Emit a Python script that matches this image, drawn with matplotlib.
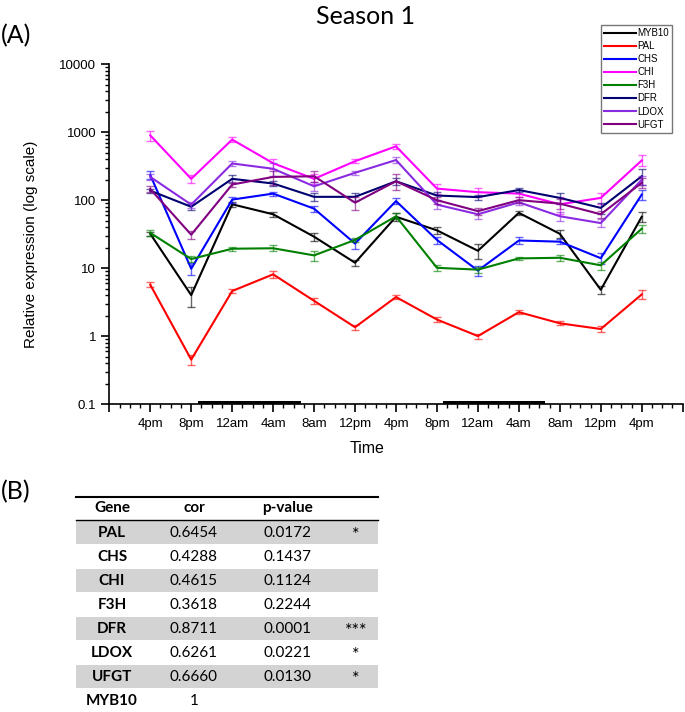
import matplotlib
matplotlib.use("Agg")
import matplotlib.pyplot as plt
from matplotlib.patches import Rectangle
from matplotlib.ticker import LogLocator, FixedLocator, NullFormatter

plt.rcParams["font.family"] = ["Liberation Sans", "DejaVu Sans"]

# hours after the first 4pm sample
hours = [0, 4, 8, 12, 16, 20, 24, 28, 32, 36, 40, 44, 48]
tick_labels = ["4pm", "8pm", "12am", "4am", "8am", "12pm", "4pm",
               "8pm", "12am", "4am", "8am", "12pm", "4pm"]

genes = ["MYB10", "PAL", "CHS", "CHI", "F3H", "DFR", "LDOX", "UFGT"]
colors = ["#000000", "#ff0000", "#0000ff", "#ff00ff", "#008000",
          "#000070", "#8a2be2", "#800080"]

myb10 = [32, 4.0, 87, 62, 29, 12, 57, 36, 18, 65, 32, 4.8, 57]
pal = [5.7, 0.45, 4.6, 8.1, 3.3, 1.35, 3.75, 1.75, 1.0, 2.25, 1.54, 1.27, 4.1]
chs = [235, 9.8, 102, 125, 75, 23, 97, 26, 9.2, 25.5, 24.5, 14, 121]
chi = [900, 206, 780, 350, 206, 375, 620, 148, 131, 125, 87, 108, 385]
f3h = [33, 13.6, 19.3, 19.6, 15.4, 26, 58, 10.1, 9.5, 13.9, 14.2, 11, 38]
dfr = [138, 80, 206, 176, 112, 112, 190, 117, 111, 141, 108, 77, 225]
ldox = [220, 86, 347, 290, 160, 253, 390, 86, 62, 93, 58, 46, 200]
ufgt = [146, 31, 170, 220, 225, 92, 190, 100, 69, 100, 89, 62, 180]

myb10_err = [2.5, 1.3, 8, 5, 4, 1.3, 8, 4, 4.5, 4, 4, 0.7, 10]
pal_err = [0.5, 0.07, 0.3, 1.0, 0.35, 0.12, 0.25, 0.15, 0.08, 0.15, 0.1, 0.12, 0.6]
chs_err = [30, 2, 10, 8, 8, 4, 10, 3, 1.5, 3, 2, 2.5, 20]
chi_err = [150, 30, 70, 60, 35, 25, 60, 25, 20, 15, 25, 20, 70]
f3h_err = [3, 1.5, 1.5, 2, 2.5, 2, 6, 1, 1, 0.8, 1.5, 1.5, 5]
dfr_err = [10, 8, 25, 15, 15, 15, 20, 15, 10, 8, 20, 15, 60]
ldox_err = [25, 8, 30, 60, 25, 15, 40, 12, 10, 8, 8, 6, 30]
ufgt_err = [15, 4, 15, 50, 40, 20, 50, 12, 8, 10, 15, 8, 30]

series = [myb10, pal, chs, chi, f3h, dfr, ldox, ufgt]
errors = [myb10_err, pal_err, chs_err, chi_err, f3h_err, dfr_err, ldox_err, ufgt_err]

# dark periods (hours after first sample)
night_start = [4.7, 28.6]
night_end = [14.7, 38.6]

# correlation table
tab_genes = ["PAL", "CHS", "CHI", "F3H", "DFR", "LDOX", "UFGT", "MYB10"]
tab_cor = ["0.6454", "0.4288", "0.4615", "0.3618", "0.8711", "0.6261", "0.6660", "1"]
tab_p = ["0.0172", "0.1437", "0.1124", "0.2244", "0.0001", "0.0221", "0.0130", ""]
tab_sig = ["*", "", "", "", "***", "*", "*", ""]

W, H = 685, 712
fig = plt.figure(figsize=(W / 100, H / 100), dpi=100)
ax = fig.add_axes([109.3 / W, 1 - 404 / H, 573.4 / W, 339.7 / H])

for name, col, vals, err in zip(genes, colors, series, errors):
    ax.errorbar(hours, vals, yerr=err, fmt="none", ecolor=col, alpha=0.6,
                elinewidth=1, capsize=3, capthick=1)
    ax.plot(hours, vals, color=col, lw=1.5, label=name)

for s, e in zip(night_start, night_end):
    ax.fill_between([s, e], 0.1, 0.112, color="black", lw=0, clip_on=False, zorder=5)

ax.set_yscale("log")
ax.set_ylim(0.1, 10000)
ax.set_xlim(-4, 52)
ax.yaxis.set_minor_locator(LogLocator(base=10, subs=range(2, 10), numticks=20))
ax.yaxis.set_minor_formatter(NullFormatter())
ax.set_yticks([0.1, 1, 10, 100, 1000, 10000])
ax.set_yticklabels(["0.1", "1", "10", "100", "1000", "10000"])

ax.xaxis.set_major_locator(FixedLocator(list(range(-4, 53, 4))))
ax.xaxis.set_minor_locator(FixedLocator(list(range(-4, 53, 1))))
ax.set_xticklabels([""] + tick_labels + [""])

for sp in ["top", "right"]:
    ax.spines[sp].set_visible(False)
for sp in ["left", "bottom"]:
    ax.spines[sp].set_linewidth(1.2)
ax.tick_params(which="major", length=6, width=1.2, labelsize=9.5)
ax.tick_params(which="minor", length=3, width=1)
ax.tick_params(axis="x", which="major", pad=4)

ax.set_ylabel("Relative expression (log scale)", fontsize=11)
ax.yaxis.set_label_coords(-0.125, 0.47)
ax.set_xlabel("Time", fontsize=11.5)
ax.xaxis.set_label_coords(0.449, -0.13)
ax.xaxis.label.set_va("center")

fig.legend(loc="upper right", bbox_to_anchor=(672 / W, 1 - 25 / H), fontsize=7,
           frameon=True, fancybox=False, edgecolor="#555555", handlelength=3.2,
           handletextpad=0.2, labelspacing=0.32, borderpad=0.3, borderaxespad=0)

fig.text(365 / W, 1 - 16 / H, "Season 1", ha="center", va="center",
         fontsize=18, family="Lato")
fig.text(1 / W, 1 - 36 / H, "(A)", ha="left", va="center", fontsize=18, family="Lato")
fig.text(1 / W, 1 - 492 / H, "(B)", ha="left", va="center", fontsize=18, family="Lato")

# table panel in pixel coordinates
tab = fig.add_axes([0, 0, 1, 232 / H])
tab.set_xlim(0, W)
tab.set_ylim(H, 480)
tab.axis("off")

x0, x1 = 76, 378
col_x = [112, 194, 288, 356]
row_top, row_h = 521, 24
for i in range(len(tab_genes)):
    y = row_top + i * row_h
    if i % 2 == 0 and i < 7:
        tab.add_patch(Rectangle((x0, y), x1 - x0, row_h - 1.5, color="#d3d3d3", lw=0))
    yc = y + row_h / 2
    tab.text(col_x[0], yc, tab_genes[i], ha="center", va="center", fontsize=11,
             family="Lato", fontweight="bold")
    tab.text(col_x[1], yc, tab_cor[i], ha="center", va="center", fontsize=11, family="Lato")
    tab.text(col_x[2], yc, tab_p[i], ha="center", va="center", fontsize=11, family="Lato")
    tab.text(col_x[3], yc + 2, tab_sig[i], ha="center", va="center", fontsize=13,
             family="Lato")

tab.plot([x0, x1], [497, 497], color="black", lw=1.5)
tab.plot([x0, x1], [520, 520], color="black", lw=1)
for txt, cx in zip(["Gene", "cor", "p-value"], col_x):
    tab.text(cx, 508, txt, ha="center", va="center", fontsize=11, family="Lato",
             fontweight="bold")

fig.savefig("out.png", dpi=100)
